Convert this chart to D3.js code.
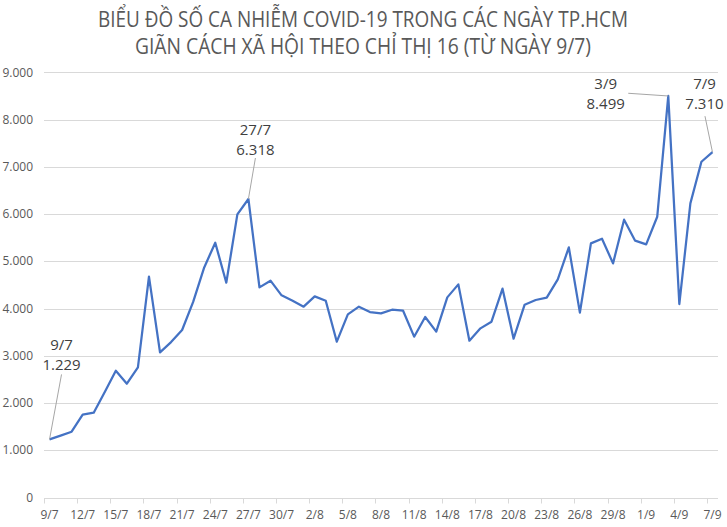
<!DOCTYPE html>
<html>
<head>
<meta charset="utf-8">
<script src="https://cdn.jsdelivr.net/npm/d3@7"></script>
<style>
  body { margin: 0; background: #fff; }
  svg { display: block; font-family: "Open Sans", "Noto Sans", sans-serif; }
</style>
</head>
<body>
<svg width="727" height="527"></svg>
<script>
// ngày (9/7 -> 7/9)
var dates = [
    "9/7", "10/7", "11/7", "12/7", "13/7", "14/7", "15/7", "16/7", "17/7", "18/7",
    "19/7", "20/7", "21/7", "22/7", "23/7", "24/7", "25/7", "26/7", "27/7", "28/7",
    "29/7", "30/7", "31/7", "1/8", "2/8", "3/8", "4/8", "5/8", "6/8", "7/8",
    "8/8", "9/8", "10/8", "11/8", "12/8", "13/8", "14/8", "15/8", "16/8", "17/8",
    "18/8", "19/8", "20/8", "21/8", "22/8", "23/8", "24/8", "25/8", "26/8", "27/8",
    "28/8", "29/8", "30/8", "31/8", "1/9", "2/9", "3/9", "4/9", "5/9", "6/9", "7/9"
];
// số ca nhiễm mỗi ngày
var cases = [
    1229, 1310, 1393, 1753, 1795, 2233, 2684, 2409, 2755, 4674,
    3073, 3290, 3545, 4140, 4870, 5393, 4547, 5993, 6318, 4448,
    4589, 4279, 4166, 4039, 4258, 4166, 3298, 3877, 4039, 3925,
    3898, 3975, 3954, 3404, 3820, 3510, 4236, 4511, 3319, 3580,
    3721, 4420, 3362, 4081, 4180, 4232, 4617, 5295, 3912, 5379,
    5478, 4956, 5880, 5436, 5358, 5943, 8499, 4095, 6226, 7107, 7310
];
var yTicks = [0, 1000, 2000, 3000, 4000, 5000, 6000, 7000, 8000, 9000];
var xTickLabels = ["9/7", "12/7", "15/7", "18/7", "21/7", "24/7", "27/7", "30/7", "2/8", "5/8",
    "8/8", "11/8", "14/8", "17/8", "20/8", "23/8", "26/8", "29/8", "1/9", "4/9", "7/9"];
var calloutDates = ["9/7", "27/7", "3/9", "7/9"];
var titleLines = [
    "BIỂU ĐỒ SỐ CA NHIỄM COVID-19 TRONG CÁC NGÀY TP.HCM",
    "GIÃN CÁCH XÃ HỘI THEO CHỈ THỊ 16 (TỪ NGÀY 9/7)"
];

var svg = d3.select("svg");
var plotLeft = 44, plotRight = 718, plotTop = 72.3, plotBottom = 497.5;

var x = d3.scaleBand().domain(dates).range([plotLeft, plotRight]);
var y = d3.scaleLinear().domain([0, 9000]).range([plotBottom, plotTop]);
var cx = function (d) { return x(d) + x.bandwidth() / 2; };
var fmt = function (v) { return d3.format(",")(v).replace(/,/g, "."); };

// tiêu đề
svg.append("g").selectAll("text")
    .data(titleLines)
    .enter().append("text")
    .attr("x", 363)
    .attr("y", function (d, i) { return 27 + i * 27; })
    .attr("text-anchor", "middle")
    .attr("textLength", function (d, i) { return i == 0 ? 530 : 456; })
    .attr("lengthAdjust", "spacingAndGlyphs")
    .style("font-size", "21px")
    .style("fill", "#595959")
    .text(function (d) { return d; });

// lưới ngang
svg.append("g").selectAll("line")
    .data(yTicks)
    .enter().append("line")
    .attr("x1", plotLeft).attr("x2", plotRight)
    .attr("y1", function (d) { return Math.round(y(d)) + 0.5; })
    .attr("y2", function (d) { return Math.round(y(d)) + 0.5; })
    .style("stroke", "#d9d9d9")
    .style("stroke-width", "1px");

// nhãn trục y
svg.append("g").selectAll("text")
    .data(yTicks)
    .enter().append("text")
    .attr("x", 33)
    .attr("y", function (d) { return y(d); })
    .attr("dy", "0.35em")
    .attr("text-anchor", "end")
    .style("font-size", "12px")
    .style("fill", "#595959")
    .text(fmt);

// vạch chia trục x
var tickIdx = d3.range(0, dates.length + 1, 3);
svg.append("g").selectAll("line")
    .data(tickIdx)
    .enter().append("line")
    .attr("x1", function (d) { return Math.round(plotLeft + d * x.bandwidth()) + 0.5; })
    .attr("x2", function (d) { return Math.round(plotLeft + d * x.bandwidth()) + 0.5; })
    .attr("y1", Math.round(plotBottom) + 0.5)
    .attr("y2", Math.round(plotBottom) + 5.5)
    .style("stroke", "#d9d9d9");

svg.append("g").selectAll("text")
    .data(xTickLabels)
    .enter().append("text")
    .attr("x", cx)
    .attr("y", 515)
    .attr("dy", "0.35em")
    .attr("text-anchor", "middle")
    .style("font-size", "12px")
    .style("fill", "#595959")
    .text(function (d) { return d; });

// đường số ca
var line = d3.line()
    .x(function (d, i) { return cx(dates[i]); })
    .y(function (d) { return y(d); });

svg.append("path")
    .datum(cases)
    .attr("d", line)
    .style("fill", "none")
    .style("stroke", "#4472c4")
    .style("stroke-width", "2.25px")
    .style("stroke-linejoin", "round");

// chú thích
var offsets = {
    "9/7": { dx: 12, dy: -95, lx: 12, ly: -65 },
    "27/7": { dx: 7, dy: -69, lx: 7, ly: -41 },
    "3/9": { dx: -62.6, dy: -12, lx: -40, ly: -2.7 },
    "7/9": { dx: -8, dy: -68, lx: -7.5, ly: -36 }
};
var callouts = calloutDates.map(function (d) {
    var i = dates.indexOf(d);
    return { date: d, value: cases[i], px: cx(d), py: y(cases[i]), o: offsets[d] };
});

var ann = svg.append("g").selectAll("g")
    .data(callouts)
    .enter().append("g");

ann.append("line")
    .attr("x1", function (d) { return d.px + d.o.lx; })
    .attr("y1", function (d) { return d.py + d.o.ly; })
    .attr("x2", function (d) { return d.px; })
    .attr("y2", function (d) { return d.py; })
    .style("stroke", "#a6a6a6")
    .style("stroke-width", "1px");

ann.append("text")
    .attr("x", function (d) { return d.px + d.o.dx; })
    .attr("y", function (d) { return d.py + d.o.dy; })
    .attr("dy", "0.35em")
    .attr("text-anchor", "middle")
    .style("font-size", "15px")
    .style("fill", "#404040")
    .text(function (d) { return d.date; });

ann.append("text")
    .attr("x", function (d) { return d.px + d.o.dx; })
    .attr("y", function (d) { return d.py + d.o.dy + 20; })
    .attr("dy", "0.35em")
    .attr("text-anchor", "middle")
    .style("font-size", "15px")
    .style("fill", "#404040")
    .text(function (d) { return fmt(d.value); });
</script>
</body>
</html>
